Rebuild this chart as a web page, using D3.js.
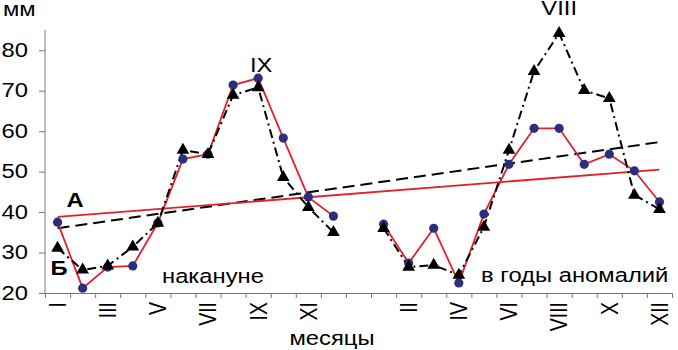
<!DOCTYPE html>
<html>
<head>
<meta charset="utf-8">
<script src="https://cdn.jsdelivr.net/npm/d3@7"></script>
<style>
  body { margin: 0; background: #fff; }
  svg { display: block; font-family: "Liberation Sans", Arial, sans-serif; }
</style>
</head>
<body>
<svg id="chart"></svg>
<script>
// months before the anomalies, a gap, then months in anomaly years
const keysBefore = ['b1','b2','b3','b4','b5','b6','b7','b8','b9','b10','b11','b12'];
const keysAnom = ['a1','a2','a3','a4','a5','a6','a7','a8','a9','a10','a11','a12'];
const labelsBefore = ['I','','III','','V','','VII','','IX','','XI',''];
const labelsAnom = ['','II','','IV','','VI','','VIII','','X','','XII'];

// precipitation, mm
const redBefore = [37.5, 21.2, 26.4, 26.7, 37.3, 53.1, 54.3, 71.4, 73.1, 58.3, 43.7, 39.0];
const blackBefore = [31.1, 25.7, 26.7, 31.4, 37.3, 55.3, 54.3, 68.9, 70.8, 48.6, 41.2, 35.0];
const redAnom = [37.0, 27.4, 36.0, 22.5, 39.5, 51.8, 60.7, 60.7, 51.8, 54.3, 50.2, 42.5];
const blackAnom = [36.0, 26.4, 26.9, 24.4, 36.3, 55.3, 74.8, 84.2, 70.1, 68.1, 44.2, 40.7];

// linear trends (first and last month)
const trendRed = [38.8, 50.5];
const trendBlack = [36.0, 57.3];

const yTicks = [20, 30, 40, 50, 60, 70, 80];

const W = 678, H = 350;
const sx = 1.22; // the original text is stretched horizontally
const fs = '19.5px';
const red = '#e3202b', navy = '#2a2f80', axisCol = '#777';

const svg = d3.select('#chart').attr('width', W).attr('height', H);

const domain = [...keysBefore, 'gap', ...keysAnom];
const x = d3.scaleBand().domain(domain).range([45, 672]).padding(0);
const cx = k => x(k) + x.bandwidth() / 2;
const y = d3.scaleLinear().domain([20, 85]).range([293, 30]);

// axes
const xi = d3.scaleLinear().domain([0, domain.length]).range([45, 672]);
svg.append('g')
    .attr('transform', 'translate(0,293)')
    .call(d3.axisBottom(xi).tickValues(d3.range(domain.length + 1)).tickFormat('').tickSize(5).tickSizeOuter(0))
    .call(g => g.selectAll('path,line').attr('stroke', axisCol));

const yAxis = svg.append('g')
    .attr('transform', 'translate(45,0)')
    .call(d3.axisLeft(y).tickValues(yTicks).tickSize(6).tickSizeOuter(0));
yAxis.select('.domain').attr('d', `M0,${y(85)}V${y(20)}`);
yAxis.selectAll('path,line').attr('stroke', axisCol);
yAxis.selectAll('text')
    .attr('x', -17 / sx)
    .attr('transform', `scale(${sx},1)`)
    .style('font-size', fs)
    .style('font-family', '"Liberation Sans", Arial, sans-serif')
    .attr('fill', '#000');

function text(str, px, py, opt = {}) {
  return svg.append('text')
      .attr('transform', `translate(${px},${py}) scale(${sx},1)${opt.rot ? ' rotate(-90)' : ''}`)
      .attr('text-anchor', opt.anchor || 'start')
      .attr('dy', opt.dy || 0)
      .style('font-size', opt.size || fs)
      .style('font-weight', opt.bold ? 'bold' : 'normal')
      .text(str);
}

// month labels, rotated
const monthLabels = [...keysBefore.map((k, i) => [k, labelsBefore[i]]),
                     ...keysAnom.map((k, i) => [k, labelsAnom[i]])];
monthLabels.filter(d => d[1]).forEach(d =>
  text(d[1], cx(d[0]), 302, { rot: true, anchor: 'end', dy: '0.35em' }));

// trend lines
const ends = [keysBefore[0], keysAnom[keysAnom.length - 1]];
const straight = d3.line().x(d => cx(d[0])).y(d => y(d[1]));
svg.append('path')
    .attr('d', straight(ends.map((k, i) => [k, trendBlack[i]])))
    .attr('fill', 'none').attr('stroke', '#000').attr('stroke-width', 2)
    .attr('stroke-dasharray', '12,6');
svg.append('path')
    .attr('d', straight(ends.map((k, i) => [k, trendRed[i]])))
    .attr('fill', 'none').attr('stroke', red).attr('stroke-width', 1.8);

// series
const groups = [
  { keys: keysBefore, red: redBefore, black: blackBefore },
  { keys: keysAnom, red: redAnom, black: blackAnom }
];
const line = d3.line().x(d => cx(d.k)).y(d => y(d.v));

groups.forEach(g => {
  const r = g.keys.map((k, i) => ({ k, v: g.red[i] }));
  const b = g.keys.map((k, i) => ({ k, v: g.black[i] }));
  svg.append('path').attr('d', line(r))
      .attr('fill', 'none').attr('stroke', red).attr('stroke-width', 1.8);
  svg.append('path').attr('d', line(b))
      .attr('fill', 'none').attr('stroke', '#000').attr('stroke-width', 2)
      .attr('stroke-dasharray', '9,4,2,4');
  svg.append('g').selectAll('circle').data(r).enter().append('circle')
      .attr('cx', d => cx(d.k)).attr('cy', d => y(d.v)).attr('r', 4.6)
      .attr('fill', navy);
  svg.append('g').selectAll('path').data(b).enter().append('path')
      .attr('d', d3.symbol(d3.symbolTriangle, 70))
      .attr('transform', d => `translate(${cx(d.k)},${y(d.v)})`)
      .attr('fill', '#000');
});

// annotations
text('мм', 3, 16);
text('месяцы', 332, 345, { anchor: 'middle' });
text('накануне', 162, 283);
text('в годы аномалий', 481, 282);
text('А', 75, 207, { anchor: 'middle', bold: true });
text('Б', 59, 275, { anchor: 'middle', bold: true });
text('IX', cx('b9') + 3, 72, { anchor: 'middle' });
text('VIII', cx('a8'), 15, { anchor: 'middle' });
</script>
</body>
</html>
